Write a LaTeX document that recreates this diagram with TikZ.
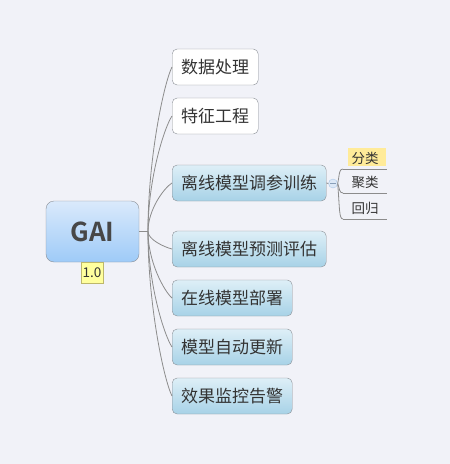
\documentclass[tikz,border=0pt]{standalone}
\usepackage{fontspec}
\setmainfont{Noto Sans CJK SC}[BoldFont={Noto Sans CJK SC Bold}]
\usepackage{xcolor}
\usetikzlibrary{positioning}

\definecolor{bgpaper}{HTML}{F1F2F8}
\definecolor{linkgray}{HTML}{8C8C8C}
\definecolor{boxgray}{HTML}{8A8F96}
\definecolor{textgray}{HTML}{333333}
\definecolor{roottop}{HTML}{DAE9FB}
\definecolor{rootbottom}{HTML}{9ECBF8}
\definecolor{bluetop}{HTML}{DEEFF7}
\definecolor{bluebottom}{HTML}{A7D2E7}
\definecolor{markyellow}{HTML}{FFFF9E}
\definecolor{markborder}{HTML}{BDB76B}
\definecolor{selyellow}{HTML}{FFEB99}
\definecolor{colfill}{HTML}{DCE8F6}
\definecolor{colborder}{HTML}{A9C6E6}

\newcommand{\topicfont}{\fontsize{17}{17}\selectfont}
\newcommand{\subfont}{\fontsize{13.5}{13.5}\selectfont}

\begin{document}
\begin{tikzpicture}[
        x=1pt, y=-1pt,
        % Style for the central topic
        rootbox/.style={draw=boxgray, rounded corners=8pt, top color=roottop, bottom color=rootbottom,
            minimum width=93pt, minimum height=61pt, inner sep=0pt, text=textgray!90,
            font=\fontsize{26}{26}\selectfont\bfseries},
        % Style for the main topics
        branchbox/.style={draw=boxgray, rounded corners=5pt, fill=white, anchor=west,
            minimum height=36pt, inner xsep=9pt, inner ysep=0pt, text=textgray, font=\topicfont},
        bluebox/.style={branchbox, top color=bluetop, bottom color=bluebottom},
        % Style for the subtopics with a line below
        subtopic/.style={anchor=south west, minimum width=44pt, minimum height=21pt, inner sep=0pt,
            text=textgray, font=\subfont,
            append after command={(\tikzlastnode.south west) edge[link] (\tikzlastnode.south east)}},
        selected/.style={path picture={\fill[selyellow]
            ([xshift=5pt,yshift=3pt]path picture bounding box.south west) rectangle
            ([xshift=-1pt]path picture bounding box.north east);}},
        marker/.style={draw=markborder, fill=markyellow, minimum width=22pt, minimum height=21pt,
            inner sep=0pt, text=textgray, font=\fontsize{13.5}{13.5}\selectfont},
        collapse/.style={circle, draw=colborder, fill=colfill, minimum size=9pt, inner sep=0pt},
        link/.style={draw=linkgray, line width=0.8pt}
    ]

    % --- Background ---
    \fill[bgpaper] (0,0) rectangle (450,464);
    \useasboundingbox (0,0) rectangle (450,464);

    % --- Central topic ---
    \node[rootbox] (root) at (92.5,231.5) {GAI};
    \node[marker] (ver) at (92,272.5) {1.0};
    \coordinate (hub) at (148,231.5);

    % --- Main topics ---
    \node[branchbox] (b1) at (172,67) {数据处理};
    \node[branchbox] (b2) at (172,116) {特征工程};
    \node[bluebox] (b3) at (172,183) {离线模型调参训练};
    \node[bluebox] (b4) at (172,249) {离线模型预测评估};
    \node[bluebox] (b5) at (172,298) {在线模型部署};
    \node[bluebox] (b6) at (172,347) {模型自动更新};
    \node[bluebox] (b7) at (172,396) {效果监控告警};

    % --- Links from the centre ---
    \draw[link] (root.east) -- (hub);
    \draw[link] (hub) .. controls +(0,-74) and +(-8,16) .. (b1.west);
    \draw[link] (hub) .. controls +(0,-52) and +(-8,12) .. (b2.west);
    \draw[link] (hub) .. controls +(0,-22) and +(-8,5) .. (b3.west);
    \draw[link] (hub) .. controls +(0,8) and +(-8,-2) .. (b4.west);
    \draw[link] (hub) .. controls +(0,30) and +(-8,-7) .. (b5.west);
    \draw[link] (hub) .. controls +(0,52) and +(-8,-12) .. (b6.west);
    \draw[link] (hub) .. controls +(0,74) and +(-8,-16) .. (b7.west);

    % --- Subtopics of training ---
    \node[collapse] (col) at (333,183.5) {};
    \draw[colborder!80!black, line width=0.6pt] ([xshift=2pt]col.west) -- ([xshift=-2pt]col.east);
    \node[subtopic, selected] (s1) at (343,169) {分类};
    \node[subtopic] (s2) at (343,193) {聚类};
    \node[subtopic] (s3) at (343,219) {回归};

    \draw[link] (b3.east) -- (col.west);
    \draw[link] (col.east) .. controls +(2,-10) and +(-4,0) .. (s1.south west);
    \draw[link] (col.east) .. controls +(2,5) and +(-4,0) .. (s2.south west);
    \draw[link] (col.east) .. controls +(2,25) and +(-4,0) .. (s3.south west);

\end{tikzpicture}
\end{document}
